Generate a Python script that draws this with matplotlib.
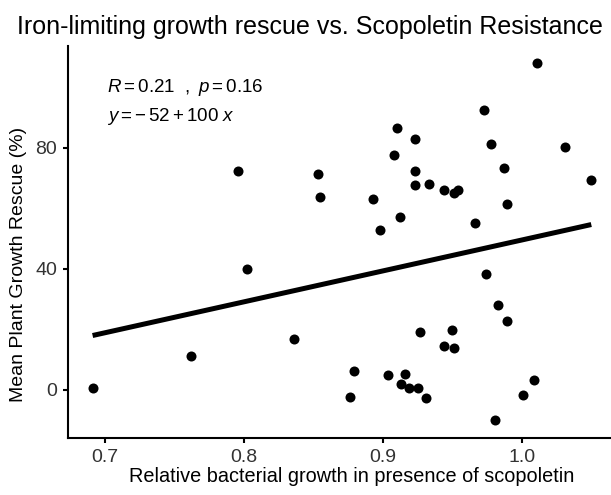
import numpy as np
import matplotlib
matplotlib.use('Agg')
import matplotlib.pyplot as plt

plt.rcParams['font.family'] = ['Liberation Sans', 'DejaVu Sans']
plt.rcParams['mathtext.fontset'] = 'custom'
plt.rcParams['mathtext.rm'] = 'Liberation Sans'
plt.rcParams['mathtext.it'] = 'Liberation Sans:italic'

# relative bacterial growth with scopoletin (x) vs plant growth rescue in % (y)
growth = [0.691, 0.762, 0.802, 0.796, 0.836, 0.853, 0.855, 0.876, 0.879,
          0.893, 0.898, 0.904, 0.908, 0.910, 0.912, 0.913, 0.916, 0.919,
          0.923, 0.923, 0.923, 0.925, 0.927, 0.931, 0.933, 0.944, 0.944,
          0.950, 0.951, 0.951, 0.954, 0.966, 0.973, 0.974, 0.978, 0.981,
          0.983, 0.987, 0.989, 0.989, 1.001, 1.009, 1.011, 1.031, 1.050]
rescue = [0.4, 11.0, 39.9, 72.2, 16.8, 71.5, 63.9, -2.4, 6.3,
          63.0, 53.0, 5.0, 77.5, 86.5, 57.0, 1.9, 5.1, 0.4,
          83.0, 72.4, 67.8, 0.4, 19.1, -2.6, 68.2, 66.0, 14.3,
          19.7, 13.8, 65.0, 66.0, 55.0, 92.6, 38.2, 81.4, -10.1,
          28.0, 73.4, 22.7, 61.3, -1.7, 3.1, 108.0, 80.2, 69.3]

x_ticks = [0.7, 0.8, 0.9, 1.0]
x_labels = ['0.7', '0.8', '0.9', '1.0']
y_ticks = [0, 40, 80]

x = np.array(growth)
y = np.array(rescue)

W, H = 611, 495
fig = plt.figure(figsize=(W / 100, H / 100), dpi=100)
ax = fig.add_axes([68.3 / W, 1 - 438 / H, (616 - 68.3) / W, (438 - 45.5) / H])

ax.scatter(x, y, s=52, color='black', linewidths=0, zorder=3)

# linear fit across the data range
slope, intercept = np.polyfit(x, y, 1)
xs = np.array([x.min(), x.max()])
ax.plot(xs, intercept + slope * xs, color='black', lw=3.6, solid_capstyle='butt', zorder=2)

ax.set_xlim(0.6735, 1.0678)
ax.set_ylim(-16, 113.9)
ax.set_xticks(x_ticks)
ax.set_xticklabels(x_labels)
ax.set_yticks(y_ticks)

for side in ['top', 'right']:
    ax.spines[side].set_visible(False)
for side in ['left', 'bottom']:
    ax.spines[side].set_linewidth(1.5)
ax.tick_params(width=1.5, length=3.3, labelsize=14, colors='black', labelcolor='#333333', pad=4.7)

fig.text(352 / W, 1 - 482 / H, 'Relative bacterial growth in presence of scopoletin',
         fontsize=14.3, ha='center', va='baseline')
fig.text(19 / W, 1 - 264 / H, 'Mean Plant Growth Rescue (%)',
         fontsize=14, rotation=90, ha='center', va='center')

ax.text(0.0707, 0.894, r'$R = 0.21\ \ ,\ p = 0.16$', transform=ax.transAxes, fontsize=13.5, va='center')
ax.text(0.0707, 0.8186, r'$y = -\,52 + 100\ x$', transform=ax.transAxes, fontsize=13.5, va='center')

fig.text(17 / W, 1 - 27 / H, 'Iron-limiting growth rescue vs. Scopoletin Resistance',
         fontsize=18, ha='left', va='center')

fig.savefig('out.png', dpi=100)
